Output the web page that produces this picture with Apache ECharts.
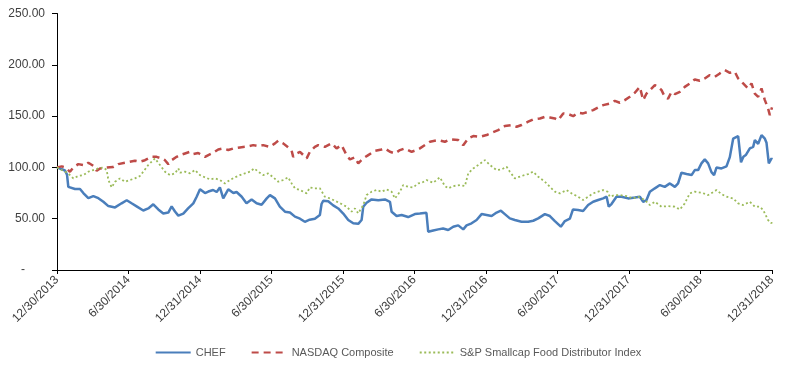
<!DOCTYPE html>
<html>
<head>
<meta charset="utf-8">
<script src="https://cdn.jsdelivr.net/npm/echarts@6/dist/echarts.min.js"></script>
<style>
html,body{margin:0;padding:0;background:#fff;}
#chart{width:796px;height:367px;}
</style>
</head>
<body>
<div id="chart"></div>
<script>
// x positions are months since 12/30/2013
const TICK_LABELS = ['12/30/2013','6/30/2014','12/31/2014','6/30/2015','12/31/2015','6/30/2016','12/31/2016','6/30/2017','12/31/2017','6/30/2018','12/31/2018'];
const SERIES_NAMES = ['CHEF','NASDAQ Composite','S&P Smallcap Food Distributor Index'];

const CHEF_M = [0,0.67,0.84,0.95,1.51,1.93,2.21,2.63,3.05,3.47,3.89,4.31,4.87,5.42,5.85,6.26,6.68,7.24,7.66,8.08,8.5,8.92,9.34,9.62,9.9,10.18,10.6,11.0,11.44,11.72,12.0,12.42,12.7,13.1,13.4,13.67,13.95,14.37,14.8,15.07,15.5,15.9,16.33,16.75,17.17,17.6,17.87,18.29,18.7,19.13,19.55,19.97,20.39,20.8,21.2,21.64,22.06,22.2,22.34,22.76,23.18,23.6,24.02,24.44,24.86,25.28,25.56,25.7,25.98,26.4,26.96,27.52,27.94,28.08,28.5,28.92,29.47,30.03,30.45,31.0,31.15,31.57,31.99,32.4,32.83,33.25,33.67,34.09,34.37,34.79,35.21,35.63,36.05,36.47,36.89,37.25,37.58,38.0,38.42,38.98,39.54,39.96,40.38,40.52,40.94,41.36,41.78,42.28,42.62,43.04,43.3,43.73,44.15,44.57,44.99,45.41,45.83,46.12,46.3,46.53,46.95,47.37,47.93,48.49,48.91,49.19,49.47,49.75,50.17,50.59,51.0,51.43,51.85,52.12,52.4,52.83,53.25,53.52,53.8,54.08,54.36,54.64,54.92,55.14,55.34,55.76,56.18,56.46,56.74,57.16,57.4,57.6,57.8,58.14,58.42,58.56,58.84,59.12,59.4,59.54,59.73,59.96,60];
const CHEF_V = [100,97,93,81,79,79,75,70,72,70,66.5,62.3,61,65,68,65,62,58,60,64,59,55,56,62,57,53,55,60,65,71.4,78.6,75,76.5,78,76,80.5,69.8,78.6,75,76,71.4,65,68.8,65,63.6,69.8,73,69.8,61.7,56.8,56,52,50,47,49,50,53.6,64.3,67.5,67,63,60,55,48.7,45.5,45,48.7,61.7,65.6,68.8,68,68.8,66.5,56.8,52.6,53.6,51.6,54.5,55,55.8,37.3,38.5,39.6,40.5,39,42.2,43.5,39.6,43.5,45.5,48.7,54.5,53.6,52.6,56,57.8,54.5,50.3,48.7,47,47,48,50.3,50.3,54.5,52.6,47.7,42.2,47.7,50,59,58.4,57.5,63.3,66.5,68.2,69.8,71.4,61.7,64.3,71.4,71.4,69.8,70.6,71.4,66.5,68.2,76.3,79.6,82.8,81,84.4,81,84.4,94.8,93.5,92.5,97.4,97.4,103.9,107.8,103.9,95.4,92.5,99.9,99,101,110,128,130.5,105,110.3,112,118.5,120,126.6,123,131.5,128,124,104,108.8,108];

const NASDAQ_M = [0,0.39,0.67,1.09,1.37,1.79,2.35,2.63,3.05,3.33,3.61,4.03,4.73,5.14,5.7,6.54,6.96,7.38,7.94,8.36,8.78,9.06,9.34,9.62,10.04,10.32,10.74,11.16,11.44,11.85,12.14,12.42,12.7,13.1,13.53,13.95,14.37,14.8,15.35,15.9,16.47,16.89,17.3,17.87,18.29,18.57,18.98,19.4,19.69,19.82,20.11,20.39,20.95,21.22,21.64,21.92,22.48,23.05,23.46,23.88,24.3,24.58,25.0,25.28,25.7,26.12,26.68,27.24,27.52,27.94,28.36,28.78,29.19,29.76,30.18,30.45,30.6,31.3,31.99,32.55,32.97,33.67,34.09,34.51,34.93,35.49,36.05,36.47,37.02,37.58,38.15,38.57,38.98,39.54,39.96,40.52,40.94,41.36,41.78,42.06,42.48,42.9,43.32,43.73,44.15,44.57,44.99,45.41,45.83,46.39,46.81,47.23,47.65,48.07,48.49,48.91,49.19,49.47,49.75,50.17,50.45,50.73,51.0,51.28,51.57,51.85,52.27,52.68,53.1,53.52,53.94,54.36,54.78,55.2,55.62,56.04,56.46,56.88,57.16,57.58,57.99,58.28,58.56,58.84,59.12,59.4,59.67,59.82,60];
const NASDAQ_V = [100,101,100,95.8,100,103.2,102,104.5,101.5,96.7,99,99.6,100.5,103.2,104.5,106.5,105.5,107,110.3,110.3,108.8,107,103.2,107,110.3,112,113.6,115.2,113,114,112,110.3,112,114.2,117.5,118.5,116.9,118.5,119.5,120.2,121.7,120.7,121.7,120,123.4,126,123.4,119.5,116.2,110.3,113.6,115.2,108.8,115.2,120,121.7,120,123.4,118.5,121.7,112,107.8,109.8,104,108.8,112,116.2,117.5,118.5,115.2,113.6,116.9,118.5,115.2,116.9,118.5,120,125,126.6,125,127.3,126.6,121.7,128.2,130.5,129.8,131.5,133.7,136.3,140.3,141.3,139.6,141.3,144.5,146.8,147.7,149.3,148.6,147.7,146,152.6,152,150,153.2,152.6,154.2,155.8,158.4,160.7,162.3,164.9,163,165.6,168.8,172.7,178.5,165.6,172,175.3,180.2,178.5,175.3,168.8,167,173.7,171.5,173.7,178.5,181.8,185.7,184.4,186.7,190,188.3,191.6,194.8,192.2,193.2,186.7,181.8,177,181.8,172,168.8,177,165.6,157.5,151,158.5];

const SP_M = [0,0.39,0.95,1.37,1.79,2.21,2.63,3.05,3.47,3.89,4.17,4.31,4.59,4.87,5.29,5.7,6.12,6.54,6.96,7.24,7.66,8.22,8.64,9.06,9.48,9.9,10.18,10.32,10.74,11.16,11.58,12.0,12.42,12.84,13.25,13.67,14.09,14.51,14.93,15.35,15.77,16.19,16.55,16.89,17.3,17.72,18.15,18.57,18.98,19.4,19.69,19.97,20.39,20.53,20.95,21.22,21.64,22.06,22.48,22.9,23.32,23.88,24.3,24.72,25.0,25.28,25.7,25.98,26.4,26.82,27.24,27.66,28.08,28.36,28.78,29.05,29.47,29.89,30.31,30.6,31.0,31.57,32.13,32.55,32.83,33.25,33.81,34.23,34.51,34.93,35.35,35.91,36.33,36.89,37.3,37.73,38.0,38.42,38.98,39.54,39.96,40.38,40.52,40.94,41.36,41.78,42.2,42.76,43.18,43.73,44.15,44.57,44.99,45.41,45.83,46.2,46.39,46.81,47.23,47.79,48.35,48.77,49.33,49.75,50.17,50.73,51.28,51.85,52.27,52.68,53.1,53.52,54.08,54.64,55.34,55.76,56.18,56.74,57.16,57.58,58.14,58.56,58.98,59.26,59.67,59.96,60];
const SP_V = [100,97.5,94.2,89.3,91.6,92.5,95.8,97.4,99,100,97.4,87.7,80.5,86,89.3,86,87.7,89.3,91.6,95.8,102.3,108.8,102.3,95.8,92.5,94.2,99,94.8,95.8,94.2,97.4,92.5,90.3,88.3,89.3,87.7,84.4,87.7,90.3,92.5,94.2,95.8,99,95.8,92.5,94.2,90.3,86,87.7,90.3,84.4,79.6,77.9,77.6,74.7,80.5,79.6,79.6,71.4,69.8,67.5,64.3,61.7,56.8,60,55.2,63.3,73,76.3,78,76.3,78.6,76.3,69.8,76.3,82.8,81.1,80.5,84.4,85,87.7,85,90.3,81.8,79.6,81.8,82.8,81.8,94.2,99,102.3,107.1,102.3,97.4,98,100.6,95.8,89.3,91.6,93.5,95.8,90.9,89.3,86,81.1,76.3,74.7,77.9,74.7,71.4,68.2,71.4,74.7,76.3,77.9,76.3,71.4,73,73,72,69.8,71.4,68.2,63.3,66.5,61.7,62.3,61.7,59,64.9,74.7,76.3,75.4,73,77.9,74,71.4,69.8,65,63.3,66.5,61.7,61.7,58.4,48.7,45.5,48.7];

function pairs(m, v) { return m.map((x, i) => [x, v[i]]); }

const chart = echarts.init(document.getElementById('chart'), null, {renderer: 'canvas'});
const FONT = 'Liberation Sans';
chart.setOption({
  animation: false,
  backgroundColor: '#ffffff',
  grid: {left: 57, right: 24, top: 13.5, bottom: 97},
  xAxis: {
    type: 'value', min: 0, max: 60, interval: 6,
    axisLine: {show: true, lineStyle: {color: '#000', width: 1}},
    axisTick: {show: true, length: 4, lineStyle: {color: '#000'}},
    splitLine: {show: false},
    axisLabel: {
      rotate: 45, margin: 8, color: '#404040', fontFamily: FONT, fontSize: 12,
      formatter: v => TICK_LABELS[Math.round(v / 6)] || ''
    }
  },
  yAxis: {
    type: 'value', min: 0, max: 250, interval: 50,
    axisLine: {show: true, lineStyle: {color: '#000', width: 1}},
    axisTick: {show: true, length: 5, lineStyle: {color: '#000'}},
    splitLine: {show: false},
    axisLabel: {
      margin: 12, color: '#404040', fontFamily: FONT, fontSize: 12,
      formatter: v => v === 0 ? '-      ' : v.toFixed(2)
    }
  },
  legend: {
    top: 342, left: 'center', itemGap: 25, itemWidth: 35, itemHeight: 14,
    itemStyle: {opacity: 0},
    textStyle: {color: '#595959', fontFamily: FONT, fontSize: 11},
    data: SERIES_NAMES
  },
  series: [
    {name: SERIES_NAMES[0], type: 'line', data: pairs(CHEF_M, CHEF_V), showSymbol: false, symbol: 'none',
     lineStyle: {color: '#4a7ebb', width: 2.5}, itemStyle: {color: '#4a7ebb'}},
    {name: SERIES_NAMES[1], type: 'line', data: pairs(NASDAQ_M, NASDAQ_V), showSymbol: false, symbol: 'none',
     lineStyle: {color: '#be4b48', width: 2.5, type: [7, 5]}, itemStyle: {color: '#be4b48'}},
    {name: SERIES_NAMES[2], type: 'line', data: pairs(SP_M, SP_V), showSymbol: false, symbol: 'none',
     lineStyle: {color: '#9bbb59', width: 1.8, type: [2, 2.5]}, itemStyle: {color: '#9bbb59'}}
  ]
});
</script>
</body>
</html>
